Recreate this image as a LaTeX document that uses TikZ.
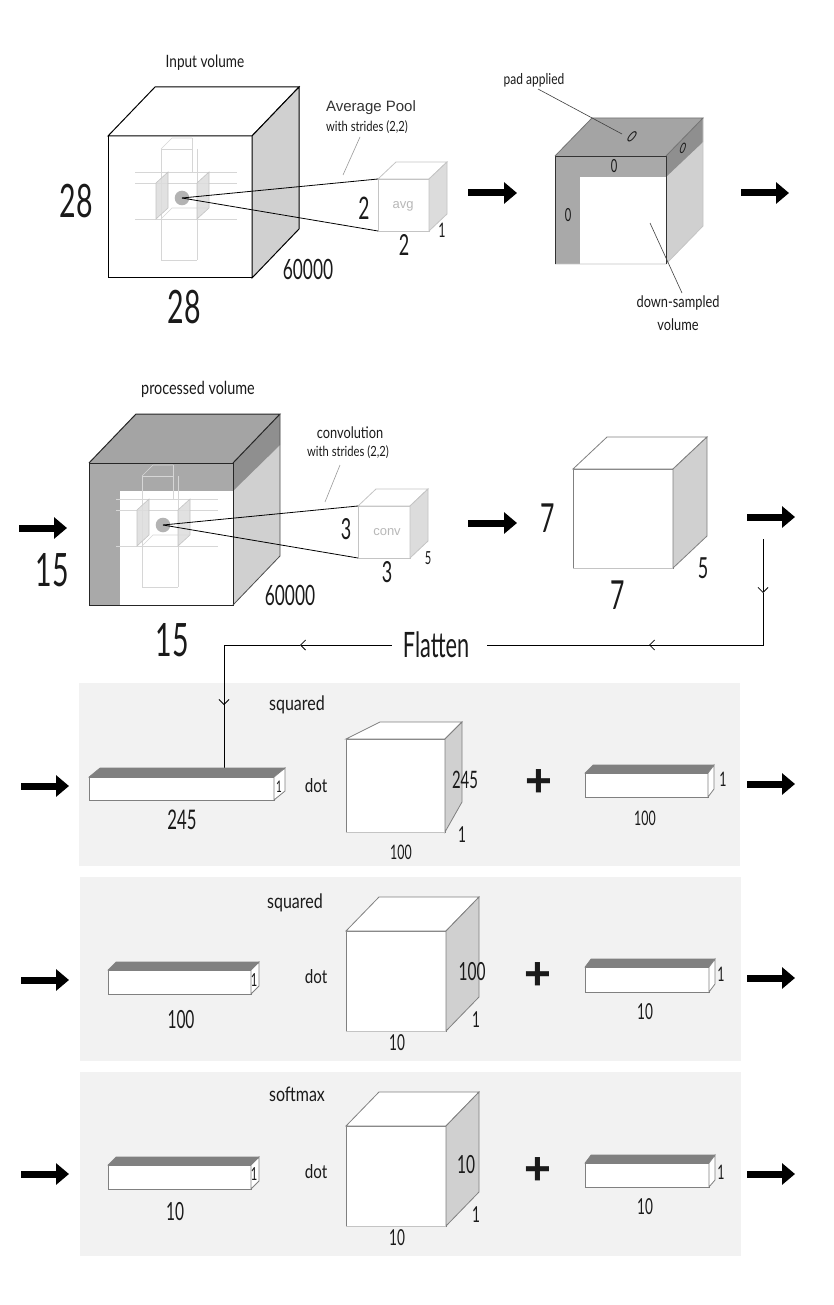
\documentclass[tikz,border=0pt]{standalone}
\usepackage{fontspec}
\setmainfont{Lato}[FakeStretch=0.8]
\newfontfamily\numf{Lato}[FakeStretch=0.62]
\newfontfamily\arialf{Liberation Sans}
\usetikzlibrary{arrows.meta}
\definecolor{panelbg}{HTML}{F2F2F2}
\definecolor{sideg}{HTML}{D0D0D0}
\definecolor{padg}{HTML}{A9A9A9}
\definecolor{padtop}{HTML}{A4A4A4}
\definecolor{padband}{HTML}{8F8F8F}
\definecolor{bartop}{HTML}{808080}
\definecolor{edgeg}{HTML}{808080}
\definecolor{lightedge}{HTML}{C4C4C4}
\definecolor{faint}{HTML}{D6D6D6}
\definecolor{kpanel}{HTML}{DCDCDC}
\definecolor{kcirc}{HTML}{B3B3B3}
\definecolor{txt}{HTML}{1A1A1A}
\begin{document}
\begin{tikzpicture}[x=1pt,y=-1pt,
  fs/.style={font=\fontsize{#1}{#1}\selectfont, inner sep=0pt, text=txt},
  nfs/.style={font=\numf\fontsize{#1}{#1}\selectfont, inner sep=0pt, text=txt},
  afs/.style={font=\arialf\fontsize{#1}{#1}\selectfont, inner sep=0pt},
  plussign/.style={font=\arialf\bfseries\fontsize{46}{46}\selectfont, inner sep=0pt, text=txt},
  bigarrow/.style={line width=7pt, -{Triangle[length=13pt,width=21pt]}},
  conn/.style={line width=0.8pt, black},
  barb/.style={conn, -{Straight Barb[length=5pt,width=10pt]}},
  leader/.style={line width=0.6pt, black!75},
  blackedge/.style={draw=black, line width=1pt},
  grayedge/.style={draw=edgeg, line width=0.8pt},
  faintline/.style={draw=faint, line width=0.6pt},
]
\useasboundingbox (0,0) rectangle (833,1305);
\fill[white] (0,0) rectangle (833,1305);

% ---------------- panels ----------------
\fill[panelbg] (79,683) rectangle (740,866);
\fill[panelbg] (80,877) rectangle (741,1061);
\fill[panelbg] (80,1072) rectangle (741,1256);

% ---------------- cube 1 (input volume) ----------------
\filldraw[fill=white, blackedge] (108,136) rectangle (252,278);
\filldraw[fill=white, blackedge] (108,136) -- (155,87) -- (299,87) -- (252,136) -- cycle;
\filldraw[fill=sideg, blackedge] (252,136) -- (299,87) -- (299,229) -- (252,278) -- cycle;

% kernel in cube 1
\begin{scope}[shift={(182,198)}]
  \draw[faintline] (-47,-26) -- (55,-26) (-47,-15) -- (55,-15) (-47,21) -- (55,21);
  \draw[faintline] (-21,-49) -- (-21,62) (15,-49) -- (15,62) (10,-60) -- (10,-26);
  \draw[faintline] (-21,-49) -- (-10,-60) -- (10,-60);
  \draw[faintline] (-21,-49) -- (10,-49);
  \draw[faintline] (-21,62) -- (15,62);
  \draw[faintline] (-21,21) -- (-10,10) -- (26,10);
  \filldraw[fill=kpanel, draw=lightedge, line width=0.6pt, fill opacity=0.85] (-26,-15) -- (-14,-26) -- (-14,10) -- (-26,21) -- cycle;
  \filldraw[fill=kpanel, draw=lightedge, line width=0.6pt, fill opacity=0.85] (15,-15) -- (27,-26) -- (27,10) -- (15,21) -- cycle;
\end{scope}
\node[circle, fill=kcirc, minimum size=14.6pt, inner sep=0pt] (k1) at (182,198) {};

% avg box
\filldraw[fill=white, draw=lightedge, line width=0.8pt] (378,179) rectangle (429,231);
\filldraw[fill=white, draw=lightedge, line width=0.8pt] (378,179) -- (396,162) -- (447,162) -- (429,179) -- cycle;
\filldraw[fill=kpanel, draw=lightedge, line width=0.8pt] (429,179) -- (447,162) -- (447,214) -- (429,231) -- cycle;
\coordinate (avgtl) at (378,179);
\coordinate (avgbl) at (378,231);
\draw[conn] (k1.center) -- (avgtl);
\draw[conn] (k1.center) -- (avgbl);
\node[afs=13, text=black!28] (avg) at (403,206) {avg};

\node[fs=17] (inputvol) at (205,63) {Input volume};
\node[nfs=46] (d28l) at (76,201) {28};
\node[nfs=46] (d28b) at (184,307) {28};
\node[nfs=28] (d60a) at (308,269) {60000};
\node[nfs=31] (d2l) at (364,208) {2};
\node[nfs=29] (d2b) at (404,245) {2};
\node[nfs=20] (d1a) at (442,230) {1};
\node[afs=15, text=black!80] (avgpool) at (371,108) {Average Pool};
\node[fs=14] (strides1) at (367,127) {with strides (2,2)};
\coordinate (ld1a) at (360,137);
\coordinate (ld1b) at (343,175);
\draw[leader, black!40] (ld1a) -- (ld1b);

% ---------------- cube 2 (pad) ----------------
\fill[padg] (555,156) rectangle (666,264);
\fill[white] (580,177) rectangle (666,264);
\fill[padtop] (555,156) -- (592,118) -- (703,118) -- (666,156) -- cycle;
\fill[sideg] (666,156) -- (703,118) -- (703,226) -- (666,264) -- cycle;
\fill[padband] (666,156) -- (703,118) -- (703,142) -- (666,177) -- cycle;
\draw[draw=lightedge, line width=0.8pt] (555,264) -- (666,264) -- (703,226) -- (703,118);
\draw[draw=black!80, line width=0.9pt] (555,264) -- (555,156) -- (666,156) -- (666,264);
\draw[draw=black!55, line width=0.8pt] (555,156) -- (592,118) -- (703,118) -- (666,156);
\node[nfs=17, rotate=-40] (z1) at (632,137) {0};
\node[nfs=18] (z2) at (614,166) {0};
\node[nfs=18] (z3) at (568,215) {0};
\node[nfs=15, rotate=-20] (z4) at (683,148) {0};
\node[fs=15] (padapp) at (534,80) {pad applied};
\coordinate (ld2a) at (538,89);
\coordinate (ld2b) at (622,134);
\draw[leader] (ld2a) -- (ld2b);
\node[fs=16] (down1) at (678,303) {down-sampled};
\node[fs=16] (down2) at (678,325) {volume};
\coordinate (ld3a) at (650,223);
\coordinate (ld3b) at (682,293);
\draw[leader] (ld3a) -- (ld3b);

% ---------------- cube 3 (processed) ----------------
\fill[padg] (89,463) rectangle (233,605);
\fill[white] (120,491) rectangle (233,605);
\fill[padtop] (89,463) -- (136,414) -- (280,414) -- (233,463) -- cycle;
\fill[sideg] (233,463) -- (280,414) -- (280,556) -- (233,605) -- cycle;
\fill[padband] (233,463) -- (280,414) -- (280,445) -- (233,491) -- cycle;
\draw[draw=black!85, line width=1pt] (89,605) -- (89,463) -- (233,463) -- (233,605) -- (89,605);
\draw[draw=black!85, line width=1pt] (89,463) -- (136,414) -- (280,414) -- (233,463);
\draw[draw=black!70, line width=0.8pt] (280,414) -- (280,556) -- (233,605);

\begin{scope}[shift={(163,525)}]
  \draw[faintline] (-47,-26) -- (55,-26) (-47,-15) -- (55,-15) (-47,21) -- (55,21);
  \draw[faintline] (-21,-49) -- (-21,62) (15,-49) -- (15,62) (10,-60) -- (10,-26);
  \draw[faintline] (-21,-49) -- (-10,-60) -- (10,-60);
  \draw[faintline] (-21,-49) -- (10,-49);
  \draw[faintline] (-21,62) -- (15,62);
  \draw[faintline] (-21,21) -- (-10,10) -- (26,10);
  \filldraw[fill=kpanel, draw=lightedge, line width=0.6pt, fill opacity=0.85] (-26,-15) -- (-14,-26) -- (-14,10) -- (-26,21) -- cycle;
  \filldraw[fill=kpanel, draw=lightedge, line width=0.6pt, fill opacity=0.85] (15,-15) -- (27,-26) -- (27,10) -- (15,21) -- cycle;
\end{scope}
\node[circle, fill=kcirc, minimum size=14.6pt, inner sep=0pt] (k2) at (163,525) {};

% conv box
\filldraw[fill=white, draw=lightedge, line width=0.8pt] (358,506) rectangle (410,558);
\filldraw[fill=white, draw=lightedge, line width=0.8pt] (358,506) -- (376,489) -- (428,489) -- (410,506) -- cycle;
\filldraw[fill=kpanel, draw=lightedge, line width=0.8pt] (410,506) -- (428,489) -- (428,541) -- (410,558) -- cycle;
\coordinate (convtl) at (358,506);
\coordinate (convbl) at (358,558);
\draw[conn] (k2.center) -- (convtl);
\draw[conn] (k2.center) -- (convbl);
\node[afs=13, text=black!28] (conv) at (387,532) {conv};

\node[fs=18] (procvol) at (198,389) {processed volume};
\node[fs=16] (convol) at (350,433) {convolution};
\node[fs=14] (strides2) at (348,452) {with strides (2,2)};
\coordinate (ld4a) at (340,465);
\coordinate (ld4b) at (325,502);
\draw[leader, black!40] (ld4a) -- (ld4b);
\node[nfs=29] (d3l) at (346,529) {3};
\node[nfs=29] (d3b) at (387,572) {3};
\node[nfs=18] (d5a) at (428,558) {5};
\node[nfs=46] (d15l) at (52,570) {15};
\node[nfs=46] (d15b) at (172,640) {15};
\node[nfs=28] (d60b) at (290,595) {60000};

% ---------------- cube 4 (7x7x5) ----------------
\filldraw[fill=white, grayedge] (573,469) rectangle (673,568);
\filldraw[fill=white, grayedge] (573,469) -- (607,437) -- (707,437) -- (673,469) -- cycle;
\filldraw[fill=sideg, grayedge] (673,469) -- (707,437) -- (707,536) -- (673,568) -- cycle;
\draw[lightedge, line width=1pt] (573,568) -- (673,568);
\node[nfs=40] (d7l) at (548,518) {7};
\node[nfs=40] (d7b) at (618,595) {7};
\node[nfs=29] (d5b) at (703,568) {5};

% ---------------- flatten connector ----------------
\node[nfs=35] (flat) at (436,645) {Flatten};
\coordinate (f1) at (763,539);
\coordinate (f1m) at (763,593);
\coordinate (f2) at (763,645);
\coordinate (f2m) at (650,645);
\coordinate (f3m) at (300,645);
\coordinate (f3) at (224,645);
\coordinate (f4m) at (224,705);
\coordinate (f4) at (224,768);
\draw[barb] (f1) -- (f1m);
\draw[conn] (f1m) -- (f2) -- (f2m);
\draw[barb] (f2m) -- ++(-1,0);
\draw[conn] (f2m) -- ([xshift=18pt]flat.east);
\draw[barb] ([xshift=-11pt]flat.west) -- (f3m);
\draw[conn] (f3m) -- (f3) -- (f4m);
\draw[barb] (f3) -- (f4m);
\draw[conn] (f4m) -- (f4);

% ---------------- panel 1 ----------------
\filldraw[fill=white, grayedge] (89,777) rectangle (274,800);
\filldraw[fill=bartop, draw=bartop, line width=0.6pt] (89,777) -- (100,768) -- (285,768) -- (274,777) -- cycle;
\filldraw[fill=white, grayedge] (274,777) -- (285,768) -- (285,791) -- (274,800) -- cycle;
\filldraw[fill=white, grayedge] (346,739) rectangle (445,832);
\filldraw[fill=white, grayedge] (346,739) -- (380,722) -- (462,722) -- (445,739) -- cycle;
\filldraw[fill=sideg, grayedge] (445,739) -- (462,722) -- (462,802) -- (445,832) -- cycle;
\draw[lightedge, line width=1pt] (346,832) -- (445,832);
\filldraw[fill=white, grayedge] (585,773) rectangle (708,797);
\filldraw[fill=bartop, draw=bartop, line width=0.6pt] (585,773) -- (593,765) -- (714,765) -- (708,773) -- cycle;
\filldraw[fill=white, grayedge] (708,773) -- (714,765) -- (714,789) -- (708,797) -- cycle;

\node[fs=20] (sq1) at (297,705) {squared};
\node[fs=19] (dot1) at (316,786) {dot};
\node[nfs=27] (n245a) at (182,820) {245};
\node[nfs=16] (one1) at (279,787) {1};
\node[nfs=24] (n245b) at (465,780) {245};
\node[nfs=22] (one2) at (462,835) {1};
\node[nfs=20] (n100a) at (401,852) {100};
\node[plussign] (plus1) at (539,783) {+};
\node[nfs=20] (one3) at (723,779) {1};
\node[nfs=20] (n100b) at (645,818) {100};

% ---------------- panel 2 ----------------
\filldraw[fill=white, grayedge] (108,970) rectangle (251,994);
\filldraw[fill=bartop, draw=bartop, line width=0.6pt] (108,970) -- (116,962) -- (259,962) -- (251,970) -- cycle;
\filldraw[fill=white, grayedge] (251,970) -- (259,962) -- (259,986) -- (251,994) -- cycle;
\filldraw[fill=white, grayedge] (346,931) rectangle (446,1031);
\filldraw[fill=white, grayedge] (346,931) -- (379,897) -- (479,897) -- (446,931) -- cycle;
\filldraw[fill=sideg, grayedge] (446,931) -- (479,897) -- (479,997) -- (446,1031) -- cycle;
\draw[lightedge, line width=1pt] (346,1031) -- (446,1031);
\filldraw[fill=white, grayedge] (585,967) rectangle (709,992);
\filldraw[fill=bartop, draw=bartop, line width=0.6pt] (585,967) -- (591,959) -- (715,959) -- (709,967) -- cycle;
\filldraw[fill=white, grayedge] (709,967) -- (715,959) -- (715,984) -- (709,992) -- cycle;

\node[fs=20] (sq2) at (295,903) {squared};
\node[fs=19] (dot2) at (316,977) {dot};
\node[nfs=25] (n100c) at (181,1020) {100};
\node[nfs=18] (one4) at (254,980) {1};
\node[nfs=25] (n100d) at (472,972) {100};
\node[nfs=22] (one5) at (476,1020) {1};
\node[nfs=22] (n10a) at (397,1043) {10};
\node[plussign] (plus2) at (538,976) {+};
\node[nfs=20] (one6) at (721,974) {1};
\node[nfs=22] (n10b) at (645,1012) {10};

% ---------------- panel 3 ----------------
\filldraw[fill=white, grayedge] (108,1165) rectangle (251,1189);
\filldraw[fill=bartop, draw=bartop, line width=0.6pt] (108,1165) -- (116,1157) -- (259,1157) -- (251,1165) -- cycle;
\filldraw[fill=white, grayedge] (251,1165) -- (259,1157) -- (259,1181) -- (251,1189) -- cycle;
\filldraw[fill=white, grayedge] (346,1126) rectangle (446,1226);
\filldraw[fill=white, grayedge] (346,1126) -- (379,1092) -- (479,1092) -- (446,1126) -- cycle;
\filldraw[fill=sideg, grayedge] (446,1126) -- (479,1092) -- (479,1192) -- (446,1226) -- cycle;
\draw[lightedge, line width=1pt] (346,1226) -- (446,1226);
\filldraw[fill=white, grayedge] (585,1163) rectangle (709,1187);
\filldraw[fill=bartop, draw=bartop, line width=0.6pt] (585,1163) -- (591,1155) -- (715,1155) -- (709,1163) -- cycle;
\filldraw[fill=white, grayedge] (709,1163) -- (715,1155) -- (715,1180) -- (709,1187) -- cycle;

\node[fs=20] (sm) at (297,1094) {softmax};
\node[fs=19] (dot3) at (316,1172) {dot};
\node[nfs=25] (n10c) at (175,1212) {10};
\node[nfs=18] (one7) at (254,1174) {1};
\node[nfs=25] (n10d) at (466,1165) {10};
\node[nfs=22] (one8) at (476,1215) {1};
\node[nfs=22] (n10e) at (397,1238) {10};
\node[plussign] (plus3) at (538,1171) {+};
\node[nfs=20] (one9) at (721,1172) {1};
\node[nfs=22] (n10f) at (645,1207) {10};

% ---------------- big arrows ----------------
\foreach \i/\xa/\xb/\yy in {1/468/517/193, 2/741/789/193, 3/19/67/528, 4/468/517/523, 5/747/795/517,
  6/21/69/786, 7/747/795/784, 8/21/69/980, 9/747/795/978, 10/21/69/1174, 11/747/795/1174}{
  \coordinate (as\i) at (\xa,\yy);
  \coordinate (ae\i) at (\xb,\yy);
  \draw[bigarrow] (as\i) -- (ae\i);
}
\end{tikzpicture}
\end{document}
